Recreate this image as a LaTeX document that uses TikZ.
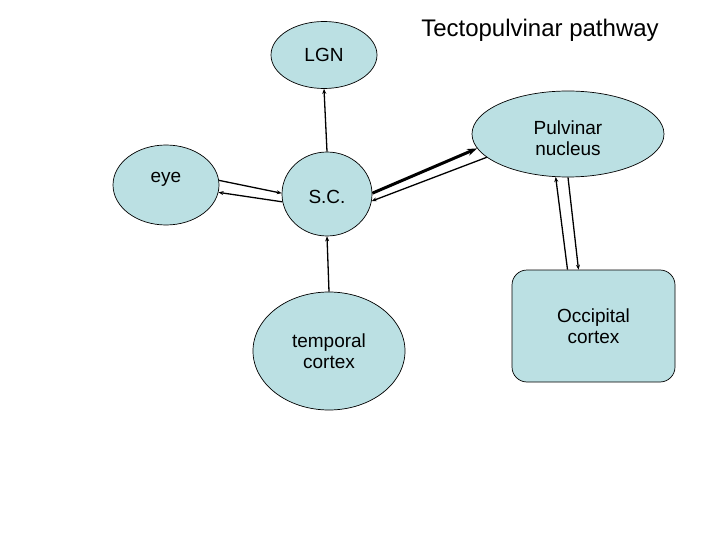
\documentclass[tikz,border=0pt]{standalone}
\usepackage{fontspec}
\setmainfont{Liberation Sans}
\usepackage{xcolor}
\usepackage{tikz}
\usetikzlibrary{arrows.meta,shapes.geometric}
\definecolor{tpfill}{HTML}{BBE0E3}
\tikzset{
  tpcell/.style  = {ellipse, draw=black, fill=tpfill, line width=0.7pt, inner sep=0pt,
                    align=center, font=\fontsize{19}{21}\selectfont},
  tpbox/.style   = {rectangle, rounded corners=15pt, draw=black, fill=tpfill, line width=0.7pt,
                    inner sep=0pt, align=center, font=\fontsize{19}{21}\selectfont},
  tptitle/.style = {font=\fontsize{24}{28}\selectfont, inner sep=0pt},
  tpflow/.style  = {-{Stealth[length=5pt,width=4pt]}, draw=black, line width=1.3pt},
  tpbold/.style  = {-{Stealth[length=10pt,width=7pt]}, draw=black, line width=3pt},
}

\begin{document}
\begin{tikzpicture}[x=1pt,y=-1pt]
  \useasboundingbox (0,0) rectangle (720,540);

  \node[tptitle] (title) at (540,30) {Tectopulvinar pathway};

  \node[tpcell, minimum width=106pt, minimum height=67pt]  (lgn)  at (324,55)  {LGN};
  \node[tpcell, minimum width=106pt, minimum height=80pt, text depth=16pt] (eye) at (166,185) {eye};
  \node[tpcell, minimum width=90pt,  minimum height=84pt, text height=20pt] (sc) at (327,194) {S.C.};
  \node[tpcell, minimum width=152pt, minimum height=118pt] (temp) at (329,351) {temporal\\cortex};
  \node[tpcell, minimum width=192pt, minimum height=86pt]  (pulv) at (568,134) {\rule{0pt}{22pt}Pulvinar\\nucleus};
  \node[tpbox,  minimum width=163pt, minimum height=112pt] (occ)  at (593.5,326) {Occipital\\cortex};

  \draw[tpflow] (sc.north)    -- (lgn.south);
  \draw[tpflow] (temp.north)  -- (sc.south);
  \draw[tpflow] (eye.5)       -- (sc.179);
  \draw[tpflow] (sc.190)      -- (eye.-8);
  \draw[tpbold] (sc.1)        -- (pulv.189);
  \draw[tpflow] (pulv.196)    -- (sc.-9);
  \draw[tpflow] ([xshift=-26pt]occ.north) -- (pulv.-106);
  \draw[tpflow] (pulv.south)  -- ([xshift=-15pt]occ.north);
\end{tikzpicture}
\end{document}
